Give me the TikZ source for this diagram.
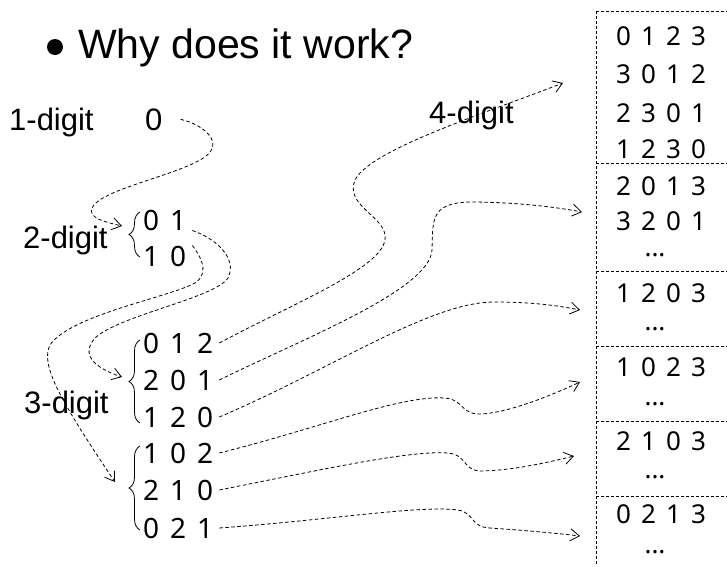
\documentclass[tikz,border=0pt]{standalone}
\usepackage{fontspec}
\setmainfont{Liberation Sans}
\newfontfamily\digitfont[WordSpace=1.5]{Noto Sans}
\usetikzlibrary{arrows.meta,decorations.pathreplacing}

\begin{document}
\begin{tikzpicture}[x=1pt, y=-1pt,
    lbl/.style={anchor=base west, inner sep=0pt, font=\fontsize{31}{37}\selectfont},
    row/.style={anchor=base west, inner sep=0pt, inner xsep=6pt, font=\digitfont\fontsize{28}{34}\selectfont},
    perm/.style={anchor=base, inner sep=0pt, font=\digitfont\fontsize{26}{31}\selectfont},
    link/.style={dash pattern=on 3.5pt off 2.5pt, line width=0.8pt, -{Straight Barb[length=9pt,width=12pt]}},
    grp/.style={decorate, decoration={brace, amplitude=11pt}, line width=0.8pt},
    sep/.style={dash pattern=on 3pt off 2pt, line width=0.9pt}
]
\useasboundingbox (0,0) rectangle (727,566);

% heading
\node[circle, fill, inner sep=0pt, minimum size=16pt] (dot) at (55,47) {};
\node[anchor=base west, inner sep=0pt, font=\fontsize{41}{49}\selectfont] (title) at (78,58) {Why does it work?};

% labels
\node[lbl] (one) at (9,130) {1-digit};
\node[lbl] (two) at (23,248) {2-digit};
\node[lbl] (three) at (24,413) {3-digit};
\node[lbl] (four) at (429,123) {4-digit};
\node[lbl] (d0) at (145,130) {0};

% 2-digit rows
\node[row] (r01) at (137,230) {0 1};
\node[row] (r10) at (137,266) {1 0};
\draw[grp] (140,257) -- (140,212);

% 3-digit rows
\node[row] (r012) at (137,353) {0 1 2};
\node[row] (r201) at (137,390) {2 0 1};
\node[row] (r120) at (137,427) {1 2 0};
\node[row] (r102) at (137,463) {1 0 2};
\node[row] (r210) at (137,500) {2 1 0};
\node[row] (r021) at (137,538) {0 2 1};
\draw[grp] (140,423) -- (140,340);
\draw[grp] (140,530) -- (140,446);

% 4-digit column
\draw[sep] (596,11) -- (727,11);
\draw[sep] (596,11) -- (596,566);
\foreach \y in {163,271,346,421,496}
  \draw[sep] (596,\y) -- (727,\y);
\node[perm] (q0123) at (661,45) {0 1 2 3};
\node[perm] (q3012) at (661,83) {3 0 1 2};
\node[perm] (q2301) at (661,122) {2 3 0 1};
\node[perm] (q1230) at (661,158) {1 2 3 0};
\node[perm] (q2013) at (661,195) {2 0 1 3};
\node[perm] (q3201) at (661,230) {3 2 0 1};
\node[perm] (e1) at (655,256) {...};
\node[perm] (q1203) at (661,302) {1 2 0 3};
\node[perm] (e2) at (655,330) {...};
\node[perm] (q1023) at (661,376) {1 0 2 3};
\node[perm] (e3) at (655,405) {...};
\node[perm] (q2103) at (661,450) {2 1 0 3};
\node[perm] (e4) at (655,478) {...};
\node[perm] (q0213) at (661,523) {0 2 1 3};
\node[perm] (e5) at (655,553) {...};

% arrow ends
\coordinate (in01) at (122,226);
\coordinate (in012) at (122,377);
\coordinate (in102) at (115,482);
\coordinate (in0123) at (563,83);
\coordinate (in2013) at (582,212);
\coordinate (in1203) at (580,310);
\coordinate (in1023) at (580,382);
\coordinate (in2103) at (574,456);
\coordinate (in0213) at (580,536);

% links
\draw[link] ([xshift=18pt]d0.east) .. controls (205,125) and (228,145) .. (200,160)
  .. controls (170,177) and (100,190) .. (92,208) .. controls (88,218) and (105,222) .. (in01);
\draw[link] (r01.south east) .. controls (215,238) and (238,258) .. (228,278)
  .. controls (215,298) and (120,315) .. (95,338) .. controls (80,355) and (95,368) .. (in012);
\draw[link] (r10.north east) .. controls (205,262) and (207,275) .. (195,283)
  .. controls (170,297) and (70,315) .. (50,345) .. controls (40,365) and (60,400) .. (in102);
\draw[link] (r012.east) .. controls (300,300) and (390,265) .. (385,235)
  .. controls (382,215) and (345,205) .. (355,180) .. controls (370,150) and (480,115) .. (in0123);
\draw[link] (r201.east) .. controls (300,340) and (430,290) .. (432,250)
  .. controls (433,220) and (430,203) .. (470,202) .. controls (510,202) and (550,206) .. (in2013);
\draw[link] (r120.east) .. controls (330,370) and (430,302) .. (494,302)
  .. controls (530,302) and (555,305) .. (in1203);
\draw[link] (r102.east) .. controls (320,428) and (400,395) .. (445,398)
  .. controls (465,400) and (460,415) .. (482,414) .. controls (510,412) and (550,396) .. (in1023);
\draw[link] (r210.east) .. controls (320,470) and (410,450) .. (448,453)
  .. controls (468,455) and (462,471) .. (482,471) .. controls (515,470) and (545,463) .. (in2103);
\draw[link] (r021.east) .. controls (330,520) and (420,505) .. (458,510)
  .. controls (475,513) and (470,527) .. (490,528) .. controls (520,530) and (555,533) .. (in0213);
\end{tikzpicture}
\end{document}
